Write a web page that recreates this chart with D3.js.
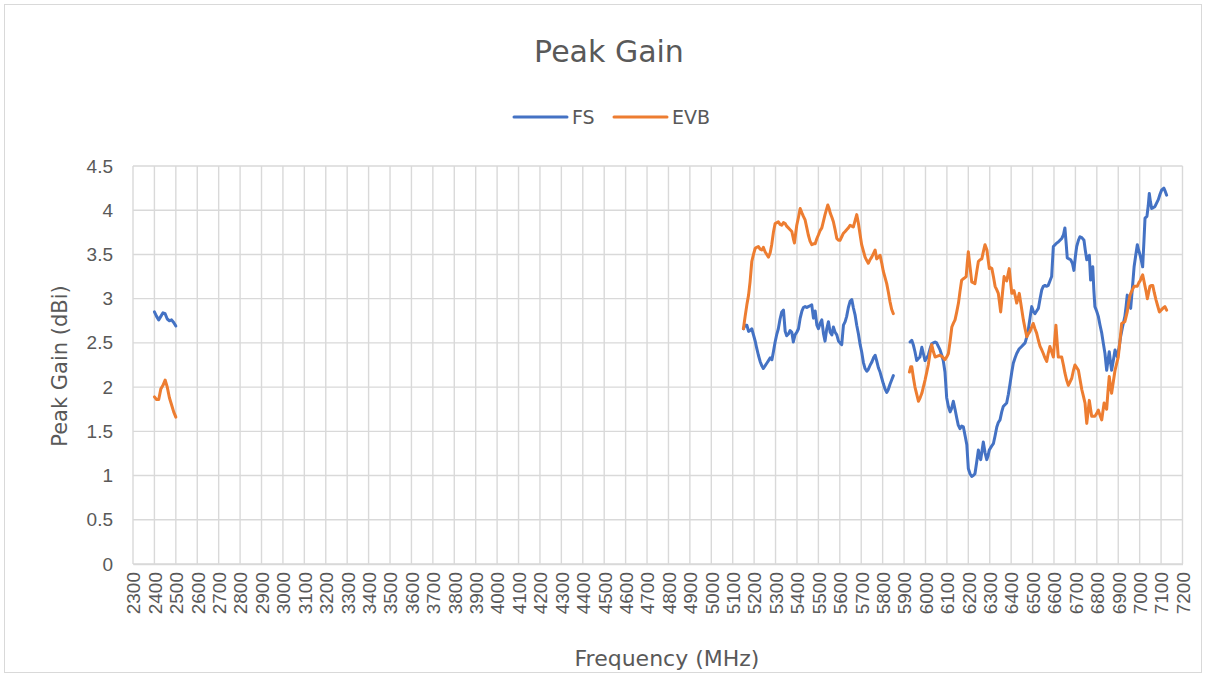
<!DOCTYPE html>
<html>
<head>
<meta charset="utf-8">
<script src="https://cdn.jsdelivr.net/npm/d3@7"></script>
<style>
  body { margin: 0; background: #fff; }
  svg { display: block; font-family: "DejaVu Sans", "Noto Sans", sans-serif; }
</style>
</head>
<body>
<svg id="chart" width="1206" height="677"></svg>
<script>
// x ticks (MHz) and y ticks (dBi)
const freqTicks = d3.range(2300, 7201, 100)
const gainTicks = [0, 0.5, 1, 1.5, 2, 2.5, 3, 3.5, 4, 4.5]

// FS measurements, [MHz, dBi], one array per band
const fsLow = [[2400,2.85],[2410,2.80],[2420,2.76],[2430,2.80],[2440,2.84],[2450,2.83],[2460,2.77],[2470,2.75],[2480,2.76],[2490,2.73],[2500,2.69]]
const fsMid = [[5150,2.66],[5158,2.70],[5166,2.70],[5174,2.63],[5181,2.64],[5189,2.66],[5197,2.59],[5205,2.52],[5212,2.44],[5220,2.36],[5228,2.29],[5236,2.24],[5243,2.21],[5251,2.24],[5259,2.27],[5267,2.30],[5275,2.33],[5283,2.31],[5290,2.40],[5298,2.51],[5306,2.60],[5313,2.66],[5321,2.77],[5329,2.85],[5337,2.87],[5345,2.63],[5352,2.58],[5360,2.60],[5368,2.64],[5376,2.62],[5383,2.51],[5391,2.59],[5399,2.62],[5407,2.66],[5415,2.78],[5423,2.86],[5430,2.90],[5438,2.91],[5446,2.90],[5453,2.91],[5461,2.92],[5469,2.93],[5477,2.78],[5485,2.86],[5493,2.70],[5500,2.66],[5508,2.72],[5516,2.76],[5524,2.60],[5531,2.52],[5539,2.66],[5547,2.74],[5555,2.62],[5563,2.59],[5570,2.68],[5578,2.62],[5586,2.59],[5594,2.52],[5601,2.50],[5609,2.48],[5617,2.70],[5625,2.74],[5632,2.80],[5640,2.90],[5648,2.97],[5656,2.99],[5663,2.90],[5671,2.82],[5679,2.70],[5687,2.60],[5695,2.48],[5702,2.40],[5710,2.28],[5718,2.21],[5726,2.18],[5733,2.20],[5742,2.25],[5749,2.28],[5757,2.33],[5765,2.36],[5772,2.30],[5780,2.22],[5788,2.17],[5796,2.10],[5803,2.04],[5811,1.98],[5819,1.94],[5826,1.97],[5834,2.03],[5842,2.08],[5850,2.13]]
const fsHigh = [[5928,2.51],[5936,2.53],[5943,2.48],[5951,2.40],[5959,2.30],[5966,2.32],[5974,2.34],[5983,2.45],[5990,2.38],[5998,2.30],[6006,2.33],[6013,2.36],[6021,2.43],[6029,2.49],[6037,2.50],[6045,2.51],[6052,2.50],[6060,2.46],[6068,2.42],[6076,2.36],[6083,2.30],[6091,2.17],[6099,1.88],[6107,1.78],[6115,1.72],[6122,1.76],[6130,1.84],[6138,1.75],[6146,1.65],[6153,1.57],[6161,1.53],[6169,1.56],[6177,1.55],[6185,1.45],[6193,1.35],[6200,1.08],[6208,1.02],[6216,0.99],[6223,1.00],[6231,1.02],[6239,1.15],[6247,1.29],[6252,1.22],[6258,1.18],[6264,1.28],[6270,1.38],[6278,1.26],[6286,1.18],[6292,1.22],[6298,1.29],[6308,1.33],[6317,1.36],[6325,1.45],[6333,1.55],[6340,1.60],[6348,1.63],[6356,1.72],[6363,1.78],[6371,1.80],[6379,1.82],[6387,1.92],[6395,2.04],[6403,2.17],[6410,2.27],[6418,2.33],[6426,2.38],[6437,2.43],[6449,2.46],[6457,2.48],[6465,2.50],[6472,2.56],[6480,2.65],[6488,2.78],[6496,2.91],[6503,2.86],[6511,2.83],[6519,2.86],[6527,2.89],[6535,3.00],[6543,3.10],[6550,3.14],[6558,3.15],[6566,3.14],[6573,3.15],[6581,3.20],[6589,3.25],[6597,3.59],[6605,3.61],[6613,3.63],[6620,3.64],[6628,3.66],[6636,3.68],[6644,3.72],[6651,3.80],[6657,3.62],[6662,3.46],[6670,3.45],[6678,3.44],[6686,3.40],[6693,3.32],[6700,3.48],[6706,3.59],[6714,3.66],[6721,3.70],[6730,3.69],[6740,3.66],[6746,3.55],[6753,3.44],[6759,3.47],[6765,3.49],[6771,3.21],[6776,3.30],[6781,3.36],[6786,3.10],[6791,2.91],[6799,2.86],[6807,2.80],[6815,2.70],[6823,2.61],[6830,2.50],[6838,2.38],[6846,2.19],[6852,2.30],[6858,2.40],[6863,2.30],[6869,2.19],[6877,2.30],[6885,2.42],[6890,2.38],[6896,2.34],[6904,2.45],[6911,2.57],[6920,2.68],[6931,2.80],[6937,2.92],[6942,3.04],[6950,2.95],[6958,2.89],[6966,3.12],[6974,3.36],[6981,3.48],[6989,3.61],[6995,3.55],[7001,3.50],[7008,3.43],[7014,3.36],[7020,3.65],[7025,3.91],[7034,3.93],[7040,4.05],[7045,4.19],[7050,4.10],[7056,4.02],[7064,4.03],[7071,4.04],[7079,4.08],[7087,4.12],[7095,4.18],[7103,4.23],[7113,4.25],[7120,4.21],[7126,4.17]]

// EVB measurements, [MHz, dBi], one array per band
const evbLow = [[2400,1.89],[2410,1.86],[2420,1.86],[2430,1.98],[2440,2.02],[2450,2.08],[2460,2.00],[2470,1.88],[2480,1.80],[2490,1.72],[2500,1.66]]
const evbMid = [[5150,2.66],[5158,2.80],[5166,2.93],[5174,3.04],[5181,3.19],[5189,3.42],[5197,3.50],[5205,3.57],[5212,3.58],[5220,3.59],[5228,3.56],[5236,3.55],[5243,3.58],[5251,3.53],[5259,3.50],[5267,3.47],[5275,3.52],[5282,3.61],[5290,3.75],[5298,3.85],[5306,3.86],[5313,3.87],[5321,3.84],[5329,3.83],[5337,3.86],[5345,3.85],[5352,3.82],[5360,3.80],[5368,3.78],[5376,3.76],[5383,3.68],[5388,3.63],[5393,3.72],[5399,3.83],[5407,3.92],[5415,4.02],[5423,3.97],[5430,3.93],[5438,3.89],[5446,3.80],[5453,3.72],[5461,3.65],[5469,3.61],[5477,3.62],[5485,3.62],[5493,3.68],[5500,3.72],[5508,3.77],[5516,3.80],[5524,3.88],[5531,3.95],[5538,4.01],[5544,4.06],[5550,4.02],[5555,3.97],[5563,3.92],[5570,3.87],[5578,3.78],[5586,3.68],[5594,3.66],[5601,3.66],[5609,3.70],[5617,3.74],[5625,3.76],[5632,3.78],[5640,3.80],[5648,3.83],[5656,3.82],[5663,3.81],[5671,3.88],[5679,3.95],[5687,3.85],[5695,3.72],[5702,3.61],[5710,3.54],[5718,3.47],[5726,3.43],[5733,3.40],[5741,3.44],[5749,3.47],[5757,3.51],[5765,3.55],[5772,3.45],[5780,3.47],[5788,3.49],[5796,3.40],[5803,3.31],[5811,3.24],[5819,3.17],[5827,3.07],[5834,2.97],[5842,2.88],[5850,2.83]]
const evbHigh = [[5925,2.17],[5931,2.23],[5936,2.23],[5944,2.10],[5951,2.00],[5959,1.92],[5967,1.84],[5975,1.88],[5983,1.93],[5990,2.00],[5998,2.08],[6006,2.17],[6013,2.25],[6021,2.38],[6029,2.48],[6037,2.40],[6045,2.34],[6056,2.35],[6068,2.36],[6080,2.34],[6091,2.31],[6099,2.34],[6107,2.38],[6115,2.52],[6123,2.68],[6130,2.72],[6138,2.76],[6146,2.85],[6154,2.95],[6161,3.08],[6169,3.21],[6180,3.23],[6190,3.25],[6195,3.40],[6200,3.53],[6208,3.36],[6216,3.19],[6223,3.18],[6231,3.17],[6239,3.30],[6247,3.42],[6255,3.44],[6263,3.45],[6270,3.53],[6278,3.61],[6287,3.55],[6292,3.45],[6298,3.34],[6304,3.35],[6310,3.34],[6318,3.24],[6325,3.14],[6333,3.10],[6340,3.06],[6346,2.95],[6351,2.85],[6359,3.05],[6367,3.25],[6373,3.22],[6379,3.20],[6385,3.27],[6391,3.34],[6397,3.20],[6403,3.06],[6408,3.08],[6413,3.09],[6420,3.02],[6426,2.95],[6432,3.00],[6438,3.06],[6448,2.90],[6457,2.76],[6465,2.66],[6473,2.57],[6480,2.60],[6488,2.63],[6496,2.68],[6503,2.72],[6511,2.66],[6519,2.61],[6527,2.53],[6535,2.46],[6543,2.42],[6550,2.38],[6558,2.33],[6566,2.29],[6573,2.38],[6581,2.46],[6589,2.40],[6597,2.34],[6603,2.52],[6609,2.70],[6615,2.50],[6620,2.34],[6628,2.34],[6636,2.34],[6644,2.25],[6651,2.16],[6659,2.08],[6667,2.02],[6675,2.06],[6683,2.10],[6690,2.18],[6698,2.25],[6706,2.22],[6714,2.19],[6722,2.08],[6730,1.97],[6737,1.90],[6745,1.82],[6749,1.70],[6753,1.59],[6759,1.72],[6765,1.85],[6771,1.75],[6776,1.67],[6784,1.67],[6791,1.67],[6799,1.70],[6807,1.74],[6815,1.68],[6823,1.63],[6828,1.72],[6834,1.82],[6840,1.78],[6846,1.75],[6852,1.95],[6858,2.12],[6863,2.02],[6869,1.93],[6877,2.06],[6885,2.19],[6892,2.26],[6900,2.34],[6908,2.52],[6916,2.72],[6923,2.73],[6931,2.74],[6937,2.80],[6942,2.85],[6948,2.95],[6955,3.04],[6964,3.09],[6974,3.14],[6981,3.14],[6989,3.14],[6996,3.18],[7002,3.20],[7008,3.24],[7014,3.27],[7020,3.20],[7025,3.14],[7031,3.07],[7036,3.00],[7042,3.07],[7048,3.14],[7054,3.15],[7061,3.15],[7068,3.07],[7076,2.99],[7084,2.92],[7092,2.85],[7100,2.87],[7108,2.89],[7113,2.90],[7118,2.91],[7122,2.89],[7126,2.87]]

const series = [
  { name: 'FS', color: '#4472C4', parts: [fsLow, fsMid, fsHigh] },
  { name: 'EVB', color: '#ED7D31', parts: [evbLow, evbMid, evbHigh] }
]

const svg = d3.select('#chart')
const textColor = '#595959'
const gridColor = '#d9d9d9'

// chart area border
svg.append('rect')
  .attr('x', 4.5).attr('y', 4.5)
  .attr('width', 1197).attr('height', 668)
  .attr('fill', 'none')
  .attr('stroke', gridColor)

const plot = { left: 133, right: 1182.5, top: 166, bottom: 564 }

const x = d3.scaleLinear().domain([2300, 7200]).range([plot.left, plot.right])
const y = d3.scaleLinear().domain([0, 4.5]).range([plot.bottom, plot.top])

// gridlines
const grid = svg.append('g').attr('class', 'grid')
grid.selectAll('line.v')
  .data(freqTicks)
  .enter().append('line')
  .attr('class', 'v')
  .attr('x1', d => x(d)).attr('x2', d => x(d))
  .attr('y1', plot.top).attr('y2', plot.bottom)
  .attr('stroke', gridColor).attr('stroke-width', 1.4)
grid.selectAll('line.h')
  .data(gainTicks)
  .enter().append('line')
  .attr('class', 'h')
  .attr('x1', plot.left).attr('x2', plot.right)
  .attr('y1', d => y(d)).attr('y2', d => y(d))
  .attr('stroke', gridColor).attr('stroke-width', 1.4)

// y axis labels
const yAxis = svg.append('g')
  .attr('transform', `translate(${plot.left},0)`)
  .call(d3.axisLeft(y).tickValues(gainTicks).tickSize(0).tickPadding(20).tickFormat(d3.format('~g')))
yAxis.select('.domain').remove()
yAxis.selectAll('text')
  .attr('fill', textColor)
  .style('font-size', '19px')

// x axis labels, vertical
const xAxis = svg.append('g')
  .attr('transform', `translate(0,${plot.bottom})`)
  .call(d3.axisBottom(x).tickValues(freqTicks).tickSize(0).tickFormat(d3.format('d')))
xAxis.select('.domain')
  .attr('stroke', gridColor).attr('stroke-width', 1.4)
xAxis.selectAll('text')
  .attr('fill', textColor)
  .style('font-size', '19px')
  .attr('transform', 'rotate(-90)')
  .attr('x', -8)
  .attr('y', 0)
  .attr('dy', '0.36em')
  .attr('text-anchor', 'end')

// data lines
const line = d3.line()
  .x(d => x(d[0]))
  .y(d => y(d[1]))

const lines = svg.append('g').attr('class', 'lines')
series.forEach(s => {
  lines.selectAll(null)
    .data(s.parts)
    .enter().append('path')
    .attr('d', line)
    .attr('fill', 'none')
    .attr('stroke', s.color)
    .attr('stroke-width', 3)
    .attr('stroke-linejoin', 'round')
    .attr('stroke-linecap', 'round')
})

// title
svg.append('text')
  .attr('x', 609).attr('y', 62)
  .attr('text-anchor', 'middle')
  .attr('fill', textColor)
  .style('font-size', '30px')
  .text('Peak Gain')

// legend
const legend = svg.append('g').attr('class', 'legend')
const legendX = [514, 614]
series.forEach((s, i) => {
  const g = legend.append('g').attr('transform', `translate(${legendX[i]},117)`)
  g.append('line')
    .attr('x1', 0).attr('x2', 53)
    .attr('stroke', s.color).attr('stroke-width', 3)
    .attr('stroke-linecap', 'round')
  g.append('text')
    .attr('x', 58).attr('dy', '0.36em')
    .attr('fill', textColor)
    .style('font-size', '19px')
    .text(s.name)
})

// axis titles
svg.append('text')
  .attr('x', 667).attr('y', 666)
  .attr('text-anchor', 'middle')
  .attr('fill', textColor)
  .style('font-size', '22px')
  .text('Frequency (MHz)')

svg.append('text')
  .attr('transform', 'translate(67,366) rotate(-90)')
  .attr('text-anchor', 'middle')
  .attr('fill', textColor)
  .style('font-size', '21px')
  .text('Peak Gain (dBi)')
</script>
</body>
</html>
